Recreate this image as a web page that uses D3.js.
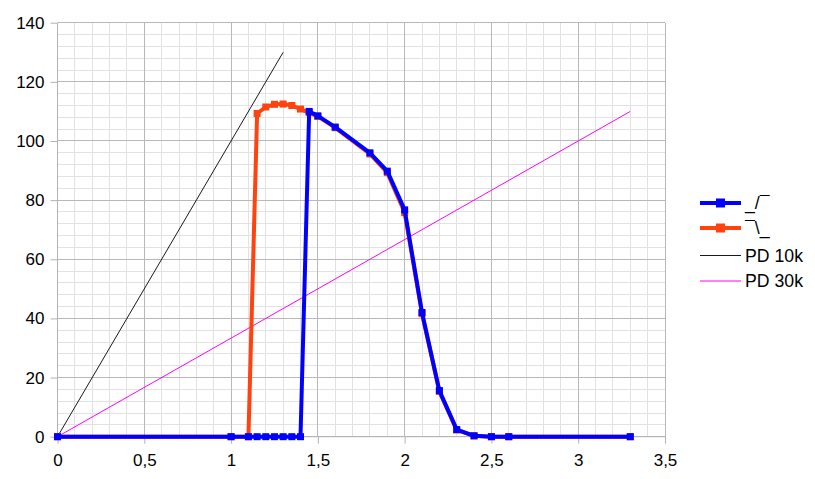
<!DOCTYPE html>
<html><head><meta charset="utf-8">
<script src="https://cdn.jsdelivr.net/npm/d3@7"></script>
<style>body{margin:0;background:#fff}svg{display:block}</style>
</head><body>
<svg id="c" width="815" height="479"></svg>
<script>
// Data
const blueX = [0, 1, 1.1, 1.15, 1.2, 1.25, 1.3, 1.35, 1.4, 1.45, 1.5, 1.6, 1.8, 1.9, 2.0, 2.1, 2.2, 2.3, 2.4, 2.5, 2.6, 3.3];
const blueY = [0, 0, 0, 0, 0, 0, 0, 0, 0, 110, 108.5, 104.7, 96, 89.8, 76.7, 42, 15.6, 2.4, 0.3, 0, 0, 0];
const orangeX = [0, 1, 1.1, 1.15, 1.2, 1.25, 1.3, 1.35, 1.4, 1.45, 1.5, 1.6, 1.8, 1.9, 2.0, 2.1, 2.2, 2.3, 2.4, 2.5, 2.6, 3.3];
const orangeY = [0, 0, 0, 109.3, 111.5, 112.4, 112.5, 112, 110.8, 109.6, 108.3, 104.5, 95.6, 89.3, 75.8, 41.6, 15.3, 2.3, 0.3, 0, 0, 0];
const pd10X = [0, 1.3];
const pd10Y = [0, 130];
const pd30X = [0, 3.3];
const pd30Y = [0, 110];
const xTicks = [0, 0.5, 1, 1.5, 2, 2.5, 3, 3.5];
const xTickLabels = ["0", "0,5", "1", "1,5", "2", "2,5", "3", "3,5"];
const yTicks = [0, 20, 40, 60, 80, 100, 120, 140];
const seriesNames = ["_/\u00AF", "\u00AF\\_", "PD 10k", "PD 30k"];

const svg = d3.select("#c");
const x = d3.scaleLinear().domain([0, 3.5]).range([57.5, 665]);
const y = d3.scaleLinear().domain([0, 140]).range([436.7, 22.7]);
const font = "'Liberation Sans', Arial, sans-serif";

// minor grid
const g = svg.append("g");
g.selectAll(".mx").data(d3.range(0, 36).map(i => i / 10)).join("line")
  .attr("x1", d => x(d)).attr("x2", d => x(d)).attr("y1", y(0)).attr("y2", y(140))
  .attr("stroke", "#e2e2e2").attr("stroke-width", 1).attr("shape-rendering", "crispEdges");
g.selectAll(".my").data(d3.range(0, 36).map(i => i * 4)).join("line")
  .attr("x1", x(0)).attr("x2", x(3.5)).attr("y1", d => y(d)).attr("y2", d => y(d))
  .attr("stroke", "#e2e2e2").attr("stroke-width", 1).attr("shape-rendering", "crispEdges");
// major grid
g.selectAll(".Mx").data(xTicks).join("line")
  .attr("x1", d => x(d)).attr("x2", d => x(d)).attr("y1", y(0)).attr("y2", y(140))
  .attr("stroke", "#b8b8b8").attr("shape-rendering", "crispEdges");
g.selectAll(".My").data(yTicks).join("line")
  .attr("x1", x(0)).attr("x2", x(3.5)).attr("y1", d => y(d)).attr("y2", d => y(d))
  .attr("stroke", "#b8b8b8").attr("shape-rendering", "crispEdges");

// axes
const xa = svg.append("g").attr("transform", `translate(0,${y(0)})`)
  .call(d3.axisBottom(x).tickValues(xTicks).tickSize(7).tickPadding(10)
    .tickFormat((d, i) => xTickLabels[i]));
const ya = svg.append("g").attr("transform", `translate(${x(0)},0)`)
  .call(d3.axisLeft(y).tickValues(yTicks).tickSize(7).tickPadding(6));
[xa, ya].forEach(a => {
  a.select(".domain").attr("stroke", "#b3b3b3");
  a.selectAll(".tick line").attr("stroke", "#b3b3b3");
  a.selectAll("text").attr("font-family", font).attr("font-size", 17).attr("fill", "#000");
});
xa.select(".domain").attr("d", `M${x(0)},0H${x(3.5)}`);
ya.select(".domain").attr("d", `M0,${y(0)}V${y(140)}`);

const line = d3.line().x(d => x(d[0])).y(d => y(d[1]));
// PD lines
svg.append("path").datum(d3.zip(pd10X, pd10Y)).attr("d", line)
  .attr("fill", "none").attr("stroke", "#1a1a1a").attr("stroke-width", 1);
svg.append("path").datum(d3.zip(pd30X, pd30Y)).attr("d", line)
  .attr("fill", "none").attr("stroke", "#ff00ff").attr("stroke-width", 1);

function series(xs, ys, color) {
  const pts = d3.zip(xs, ys);
  svg.append("path").datum(pts).attr("d", line)
    .attr("fill", "none").attr("stroke", color).attr("stroke-width", 4).attr("stroke-linejoin", "round");
  svg.append("g").selectAll("rect").data(pts).join("rect")
    .attr("x", d => x(d[0]) - 3.5).attr("y", d => y(d[1]) - 3.5)
    .attr("width", 7).attr("height", 7).attr("fill", color);
}
series(orangeX, orangeY, "#ff420e");
series(blueX, blueY, "#0000ff");

// legend
const leg = [
  {name: seriesNames[0], color: "#0000ff", w: 4, m: true, yy: 203},
  {name: seriesNames[1], color: "#ff420e", w: 4, m: true, yy: 228},
  {name: seriesNames[2], color: "#1a1a1a", w: 1, m: false, yy: 255.5},
  {name: seriesNames[3], color: "#ff00ff", w: 1, m: false, yy: 281}
];
const lg = svg.append("g");
leg.forEach(l => {
  lg.append("line").attr("x1", 700).attr("x2", 741).attr("y1", l.yy).attr("y2", l.yy)
    .attr("stroke", l.color).attr("stroke-width", l.w);
  if (l.m) lg.append("rect").attr("x", 716).attr("y", l.yy - 4.5).attr("width", 9).attr("height", 9).attr("fill", l.color);
  lg.append("text").attr("x", 745).attr("y", l.yy + 6).attr("font-family", font).attr("font-size", 17.7)
    .text(l.name);
});
</script>
</body></html>
